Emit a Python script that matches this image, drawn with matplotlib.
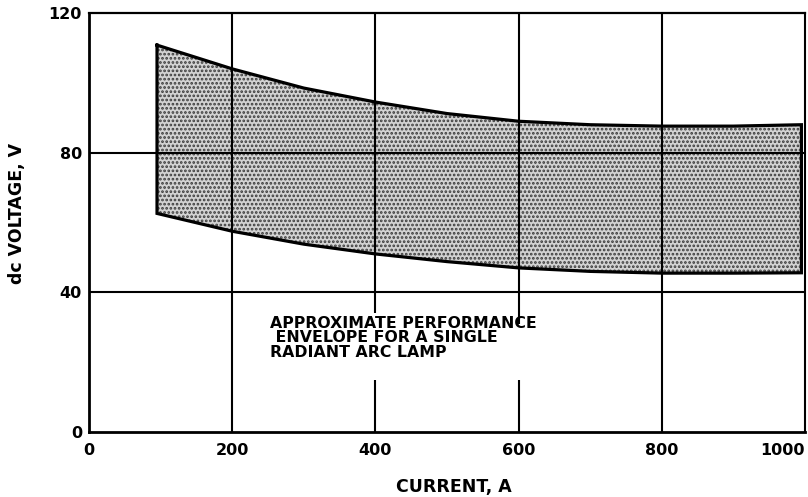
import numpy as np
import matplotlib
matplotlib.use("Agg")
import matplotlib.pyplot as plt

# envelope
current = [95, 200, 300, 400, 500, 600, 700, 800, 900, 995]
upper_v = [110.8, 104.0, 98.5, 94.5, 91.2, 89.0, 88.0, 87.6, 87.6, 88.0]
lower_v = [62.6, 57.5, 53.8, 51.0, 48.8, 47.0, 46.0, 45.5, 45.5, 45.6]

x_ticks = [0, 200, 400, 600, 800, 1000]
y_ticks = [0, 40, 80, 120]
note_lines = ["APPROXIMATE PERFORMANCE", " ENVELOPE FOR A SINGLE", "RADIANT ARC LAMP"]

plt.rcParams['hatch.linewidth'] = 1.3
plt.rcParams['font.family'] = 'DejaVu Sans'

W, H = 808, 497
fig = plt.figure(figsize=(W / 100, H / 100), dpi=100)
ax = fig.add_axes([89 / W, 1 - 432 / H, (805 - 89) / W, (432 - 13) / H])
ax.set_xlim(0, 1000)
ax.set_ylim(0, 120)

# stippled envelope
ax.fill_between(current, lower_v, upper_v, facecolor='#d2d2d2', edgecolor='#3a3a3a',
                hatch='....', linewidth=0, zorder=1)
ax.plot(current + current[::-1] + [current[0]], upper_v + lower_v[::-1] + [upper_v[0]],
        color='black', lw=2.3, solid_joinstyle='miter', zorder=3)

# grid
for yv in [40, 80]:
    ax.axhline(yv, color='black', lw=1.5, zorder=2)
for xv in [200, 800]:
    ax.axvline(xv, color='black', lw=1.5, zorder=2)
# lines at 400 and 600 stop around the note text
ax.vlines(400, 0, 15, color='black', lw=1.5, zorder=2)
ax.vlines(400, 34, 120, color='black', lw=1.5, zorder=2)
ax.vlines(600, 0, 15, color='black', lw=1.5, zorder=2)
ax.vlines(600, 31, 120, color='black', lw=1.5, zorder=2)

for s in ['left', 'bottom']:
    ax.spines[s].set_linewidth(2.0)
ax.spines['top'].set_linewidth(1.6)
ax.spines['right'].set_linewidth(1.5)

ax.set_xticks(x_ticks)
ax.set_yticks(y_ticks)
ax.set_xticklabels([str(v) for v in x_ticks])
ax.set_yticklabels([str(v) for v in y_ticks])
ax.tick_params(length=0, labelsize=11.5, colors='black')
for lab in ax.get_xticklabels() + ax.get_yticklabels():
    lab.set_fontweight('bold')
ax.tick_params(axis='x', pad=8)
ax.tick_params(axis='y', pad=5)
ax.get_xticklabels()[-1].set_ha('right')

# note text, one block so the lines sit tight like the original
ax.text(253, 33.2, "\n".join(note_lines), fontsize=11.3, fontweight='bold',
        va='top', ha='left', linespacing=0.95, zorder=4)

fig.text(454 / W, 1 - 487 / H, "CURRENT, A", fontsize=12.5, fontweight='bold',
         ha='center', va='center')
fig.text(17 / W, 1 - 213 / H, "dc VOLTAGE, V", fontsize=12.5, fontweight='bold',
         ha='center', va='center', rotation=90)

fig.savefig("out.png", dpi=100)
